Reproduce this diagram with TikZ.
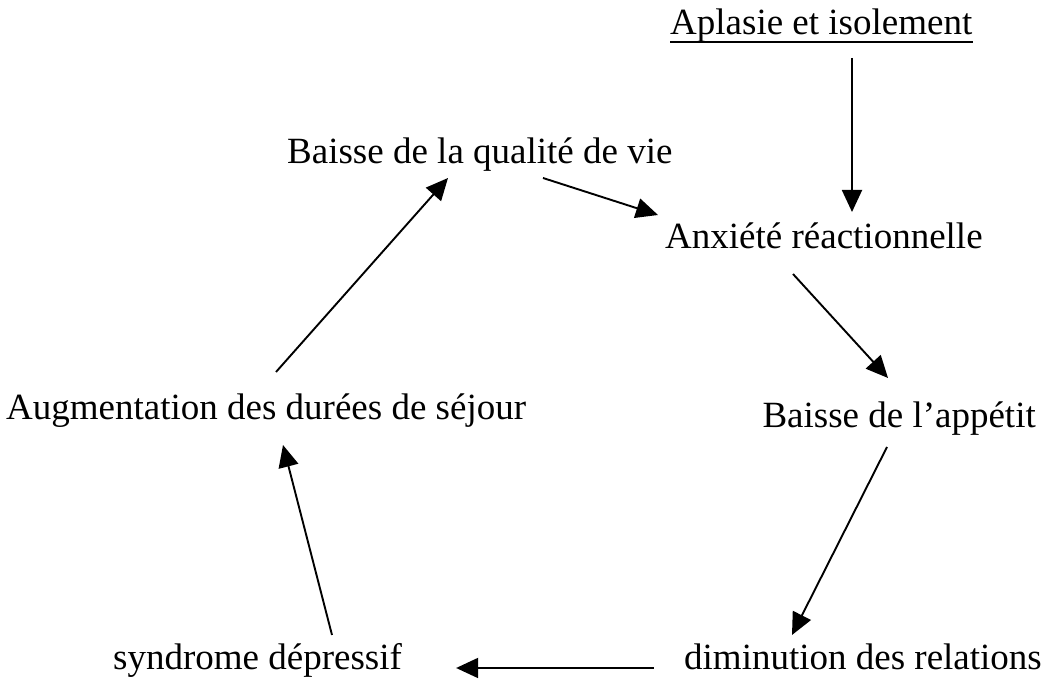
\documentclass[tikz,border=0pt]{standalone}
\usepackage{fontspec}
\setmainfont{Liberation Serif}
\usetikzlibrary{arrows.meta,calc}
\begin{document}
\begin{tikzpicture}[x=1pt,y=1pt,
        etiquette/.style={inner sep=0pt, font=\fontsize{37}{44}\selectfont},
        fleche/.style={line width=1.9pt, -{Triangle[length=22pt,width=20pt]}}]
        \useasboundingbox (0,0) rectangle (1044,682);

        % Cause
        \node[etiquette, anchor=base west] (apl) at (670,647) {Aplasie et isolement};
        \draw[line width=1.5pt] ($(apl.base west)+(0,-7)$) -- ($(apl.base east)+(0,-7)$);

        % Cercle vicieux
        \node[etiquette, anchor=base west] (qual) at (287,518) {Baisse de la qualité de vie};
        \node[etiquette, anchor=base west] (anx) at (665,433) {Anxiété réactionnelle};
        \node[etiquette, anchor=base east] (app) at (1036,254) {Baisse de l’appétit};
        \node[etiquette, anchor=base east] (dim) at (1042,12) {diminution des relations};
        \node[etiquette, anchor=base west] (syn) at (113,12) {syndrome dépressif};
        \node[etiquette, anchor=base west] (aug) at (6,262) {Augmentation des durées de séjour};

        % Fleches
        \draw[fleche] ($(apl.base west)+(182,-23)$) -- ($(anx.base west)+(187,37)$);
        \draw[fleche] ($(qual.base west)+(256,-14)$) -- ($(anx.base west)+(-7,34)$);
        \draw[fleche] ($(anx.base west)+(128,-25)$) -- ($(app.base east)+(-148,50)$);
        \draw[fleche] ($(app.base east)+(-149,-19)$) -- ($(dim.base east)+(-250,35)$);
        \draw[fleche] ($(dim.base west)+(-30,2)$) -- ($(syn.base east)+(54,2)$);
        \draw[fleche] ($(syn.base west)+(219,35)$) -- ($(aug.base west)+(277,-25)$);
        \draw[fleche] ($(aug.base west)+(270,48)$) -- ($(qual.base west)+(161,-14)$);
    \end{tikzpicture}
\end{document}
